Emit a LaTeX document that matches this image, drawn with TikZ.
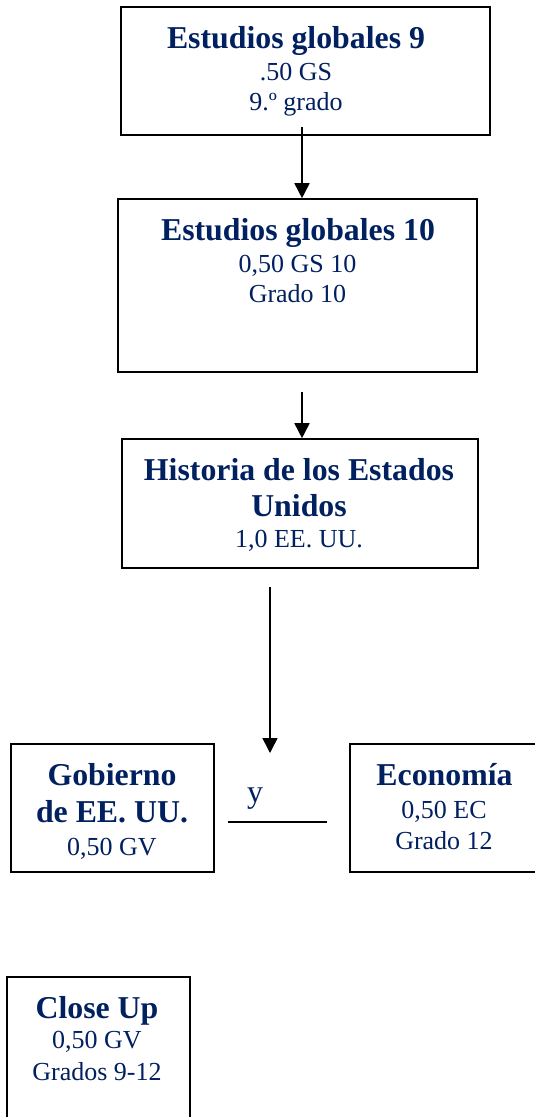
\documentclass[tikz,border=0pt]{standalone}
\usepackage{fontspec}
\setmainfont{Liberation Serif}
\usetikzlibrary{arrows.meta}
\definecolor{navy}{RGB}{0,32,96}
\begin{document}
\begin{tikzpicture}[x=1pt,y=-1pt,
  box/.style={draw=black,line width=1.6pt,inner sep=0pt,fill=white},
  ttl/.style={anchor=base,text=navy,inner sep=0pt,font=\fontsize{31.8}{36}\selectfont\bfseries},
  sub/.style={anchor=base,text=navy,inner sep=0pt,font=\fontsize{26}{30}\selectfont},
  arr/.style={line width=1.6pt,-{Triangle[width=15pt,length=15pt]}}]
\useasboundingbox (0,0) rectangle (535,1117);
\clip (0,0) rectangle (535,1117);
% boxes
\node[box,minimum width=369pt,minimum height=128pt] (b1) at (305.5,71) {};
\node[box,minimum width=359pt,minimum height=173pt] (b2) at (297.5,285.5) {};
\node[box,minimum width=356pt,minimum height=129pt] (b3) at (300,503.5) {};
\node[box,minimum width=203pt,minimum height=128pt] (gov) at (112.5,808) {};
\node[box,minimum width=220pt,minimum height=128pt] (eco) at (460,808) {};
\node[box,minimum width=183pt,minimum height=180pt] (cu) at (98.5,1067) {};
% texts
\node[ttl] (b1a) at (296,48) {Estudios globales 9};
\node[sub] (b1b) at (296,80) {.50 GS};
\node[sub] (b1c) at (296,110) {9.º grado};
\node[ttl] (b2a) at (298,240) {Estudios globales 10};
\node[sub] (b2b) at (297.5,272) {0,50 GS 10};
\node[sub] (b2c) at (297.5,302) {Grado 10};
\node[ttl] (b3a) at (299,480) {Historia de los Estados};
\node[ttl] (b3b) at (299,516) {Unidos};
\node[sub] (b3c) at (299,547) {1,0 EE. UU.};
\node[ttl] (gova) at (112,785) {Gobierno};
\node[ttl] (govb) at (112,822) {de EE. UU.};
\node[sub] (govc) at (112,855) {0,50 GV};
\node[ttl] (ecoa) at (444.5,785) {Economía};
\node[sub] (ecob) at (444,818) {0,50 EC};
\node[sub] (ecoc) at (444,849) {Grado 12};
\node[ttl] (cua) at (97,1018) {Close Up};
\node[sub] (cub) at (97,1048) {0,50 GV};
\node[sub] (cuc) at (97,1080) {Grados 9-12};
\node[anchor=base,text=navy,inner sep=0pt,font=\fontsize{32}{36}\selectfont] (yy) at (255,802) {y};
% connectors
\coordinate (a1s) at (302,127);
\coordinate (a2s) at (302,392);
\coordinate (a3s) at (270,587);
\coordinate (a3e) at (270,753);
\coordinate (ls) at (228,822);
\coordinate (le) at (327,822);
\draw[arr] (a1s) -- (a1s |- b2.north);
\draw[arr] (a2s) -- (a2s |- b3.north);
\draw[arr] (a3s) -- (a3e);
\draw[line width=1.8pt] (ls) -- (le);
\end{tikzpicture}
\end{document}
